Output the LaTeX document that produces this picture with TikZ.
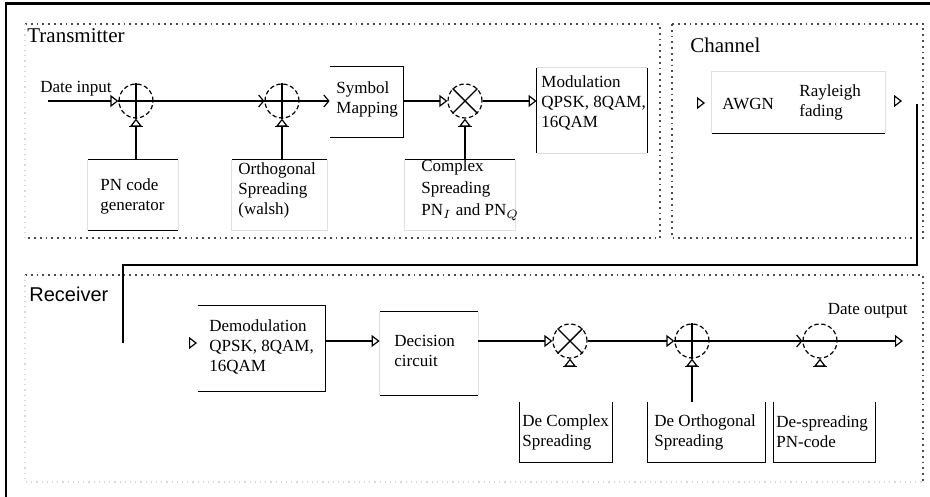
\documentclass[tikz,border=0pt]{standalone}
\usepackage{fontspec}
\setmainfont{Liberation Serif}
\setsansfont{Liberation Sans}
\usetikzlibrary{arrows.meta,calc}

\begin{document}
\begin{tikzpicture}[x=0.5pt,y=-0.5pt,
  lbl/.style={anchor=west,align=left,inner sep=0pt,font=\fontsize{8.5}{10}\selectfont},
  heading/.style={anchor=west,inner sep=0pt,font=\fontsize{10.5}{12}\selectfont},
  blank/.style={draw=none,rectangle,inner sep=0pt},
  edge/.style={line width=0.7pt},
  faint/.style={draw=black!12,line width=0.5pt},
  joint/.style={circle,draw,minimum size=17pt,inner sep=0pt,line width=0.6pt,dash pattern=on 2.2pt off 1.3pt},
  tri/.style={-{Triangle[open,length=4pt,width=6pt,line width=0.6pt]}},
  barb/.style={-{Straight Barb[length=2.5pt,width=6pt,line width=0.6pt]}},
  sig/.style={line width=0.7pt},
  region/.style={dotted,line width=0.9pt,draw=black!70},
  faintregion/.style={dotted,line width=0.6pt,draw=black!15},
]
\useasboundingbox (0,0) rectangle (930,497);

% outer frame
\draw[line width=1.4pt] (6,3.5) rectangle (1000,560);

% region outlines
\draw[region] (25,24) -- (660,24) -- (660,238) -- (25,238);
\draw[faintregion] (25,24) -- (25,238);
\draw[region] (672,24) rectangle (923,238);
\draw[region] (25,275) -- (923,275) -- (923,482);
\draw[faintregion] (25,275) -- (25,482) -- (923,482);

% headings
\node[heading] (tx) at (27,36) {Transmitter};
\node[heading] (chn) at (690,45) {Channel};
\node[heading,font=\sffamily\fontsize{10}{12}\selectfont] (rx) at (29,294) {Receiver};

% ---------------- transmitter ----------------
\node[joint] (s1) at (136,101) {};
\node[joint] (s2) at (282,101) {};
\node[joint] (m1) at (465,101) {};

\node[blank,minimum width=45pt,minimum height=35pt] (pn) at (133,195) {};
\node[blank,minimum width=47.5pt,minimum height=35pt] (orth) at (279.5,195) {};
\node[blank,minimum width=36.5pt,minimum height=35pt] (sym) at (366.5,102) {};
\node[blank,minimum width=55pt,minimum height=35pt] (cplx) at (460,195) {};
\node[blank,minimum width=55pt,minimum height=42.5pt] (mod) at (592,110.5) {};

% box outlines
\draw[edge] (pn.north west) -- (pn.north east) (pn.south west) -- (pn.south east);
\draw[faint] (pn.north west) -- (pn.south west) (pn.north east) -- (pn.south east);
\draw[edge] (orth.north west) -- (orth.north east);
\draw[faint] (orth.north west) -- (orth.south west) -- (orth.south east) -- (orth.north east);
\draw[edge] (sym.north west) -- (sym.north east) -- (sym.south east) -- (sym.south west);
\draw[edge] (cplx.north west) -- (cplx.north east);
\draw[faint] (cplx.north west) -- (cplx.south west) -- (cplx.south east) -- (cplx.north east);
\draw[edge] (mod.north west) -- (mod.south west) (mod.north east) -- (mod.south east);
\draw[faint] (mod.north west) -- (mod.north east) (mod.south west) -- (mod.south east);

% box texts
\node[lbl] (pnt) at (100,196) {PN code\\generator};
\node[lbl] (ortht) at (238,190) {Orthogonal\\Spreading\\(walsh)};
\node[lbl] (symt) at (336,99) {Symbol\\Mapping};
\node[lbl,font=\fontsize{8.5}{11}\selectfont] (cplxt) at (421,190) {Complex\\Spreading\\PN$_I$ and PN$_Q$};
\node[lbl] (modt) at (541,103) {Modulation\\QPSK, 8QAM,\\16QAM};
\node[lbl] (din-t) at (40,89) {Date input};

% joint symbols
\draw[edge] (s1.north) -- (s1.south) (s1.west) -- (s1.east);
\draw[edge] (s2.north) -- (s2.south) (s2.west) -- (s2.east);
\draw[edge] (m1.north west) -- (m1.south east) (m1.north east) -- (m1.south west);

% transmitter signal path
\coordinate (din) at (48,101);
\draw[sig,tri] (din) -- (s1.west);
\draw[sig,barb] (s1.east) -- (s2.west);
\draw[sig,barb] (s2.east) -- (s2.east -| sym.west);
\draw[sig,tri] (m1.west -| sym.east) -- (m1.west);
\draw[sig,tri] (m1.east) -- (m1.east -| mod.west);

% feeds from below
\draw[sig,tri] (s1.south |- pn.north) -- (s1.south);
\draw[sig] ($(s1.south)+(-7,8)$) -- ($(s1.south)+(7,8)$);
\draw[sig,tri] (s2.south |- orth.north) -- (s2.south);
\draw[sig] ($(s2.south)+(-7,8)$) -- ($(s2.south)+(7,8)$);
\draw[sig,tri] (m1.south |- cplx.north) -- (m1.south);
\draw[sig] ($(m1.south)+(-7,8)$) -- ($(m1.south)+(7,8)$);

% ---------------- channel ----------------
\node[blank,minimum width=86.5pt,minimum height=30.5pt] (awgn) at (798.5,102.5) {};
\draw[faint] (awgn.south west) -- (awgn.north west) -- (awgn.north east) -- (awgn.south east);
\draw[edge] (awgn.south west) -- (awgn.south east);
\node[lbl] (awgnt) at (722,104) {AWGN};
\node[lbl] (rayt) at (799,102) {Rayleigh\\fading};
\coordinate (chin) at (697,103);
\draw[sig,tri] (chin) -- ++(8,0);
\coordinate (chq) at (894,101);
\draw[sig,tri] (chq) -- ++(8,0);

% link from channel to receiver
\coordinate (chout) at (917,104);
\coordinate (rxin) at (123,343);
\draw[line width=0.8pt] (chout) -- ++(0,161) -| (rxin);

% ---------------- receiver ----------------
\node[joint] (m2) at (570,341) {};
\node[joint] (s3) at (692,341) {};
\node[joint] (d1) at (820,341) {};

\node[blank,minimum width=63.5pt,minimum height=42.5pt] (dem) at (261.5,348.5) {};
\node[blank,minimum width=49pt,minimum height=41.5pt] (dec) at (429,353.5) {};
\node[blank,minimum width=46pt,minimum height=30pt] (dcx) at (566,432) {};
\node[blank,minimum width=58.5pt,minimum height=30pt] (dor) at (706.5,432) {};
\node[blank,minimum width=50.5pt,minimum height=30pt] (dsp) at (824.5,432) {};

\draw[edge] (dem.north west) -- (dem.north east) -- (dem.south east) -- (dem.south west);
\draw[edge] (dec.north west) -- (dec.north east) (dec.south west) -- (dec.south east);
\draw[faint] (dec.north west) -- (dec.south west) (dec.north east) -- (dec.south east);
\draw[edge] (dcx.north west) -- (dcx.south west) -- (dcx.south east) -- (dcx.north east);
\draw[edge] (dor.north west) -- (dor.south west) -- (dor.south east) -- (dor.north east);
\draw[edge] (dsp.north west) -- (dsp.south west) -- (dsp.south east) -- (dsp.north east);

\node[lbl] (demt) at (209,347) {Demodulation\\QPSK, 8QAM,\\16QAM};
\node[lbl] (dect) at (394,351) {Decision\\circuit};
\node[lbl] (dcxt) at (522,432) {De Complex\\Spreading};
\node[lbl] (dort) at (654,432) {De Orthogonal\\Spreading};
\node[lbl] (dspt) at (776,432) {De-spreading\\PN-code};
\node[lbl,anchor=east] (doutt) at (908,311) {Date output};

% joint symbols
\draw[edge] (m2.north west) -- (m2.south east) (m2.north east) -- (m2.south west);
\draw[edge] (s3.north) -- (s3.south) (s3.west) -- (s3.east);
\draw[edge] (d1.west) -- (d1.east);

% receiver signal path
\coordinate (dmin) at (189,343);
\draw[sig,tri] (dmin) -- ++(8,0);
\draw[sig,tri] (m2.west -| dem.east) -- (m2.west -| dec.west);
\draw[sig,tri] (m2.west -| dec.east) -- (m2.west);
\draw[sig,tri] (m2.east) -- (s3.west);
\draw[sig,barb] (s3.east) -- (d1.west);
\coordinate (dout) at (903,341);
\draw[sig,tri] (d1.east) -- (dout);

% feeds from below
\draw[sig,tri] ($(m2.south)+(0,8)$) -- (m2.south);
\draw[sig] ($(m2.south)+(-7,8)$) -- ($(m2.south)+(7,8)$);
\draw[sig,tri] (s3.south |- dor.north) -- (s3.south);
\draw[sig] ($(s3.south)+(-7,8)$) -- ($(s3.south)+(7,8)$);
\draw[sig,tri] ($(d1.south)+(0,8)$) -- (d1.south);
\draw[sig] ($(d1.south)+(-7,8)$) -- ($(d1.south)+(7,8)$);
\end{tikzpicture}
\end{document}
